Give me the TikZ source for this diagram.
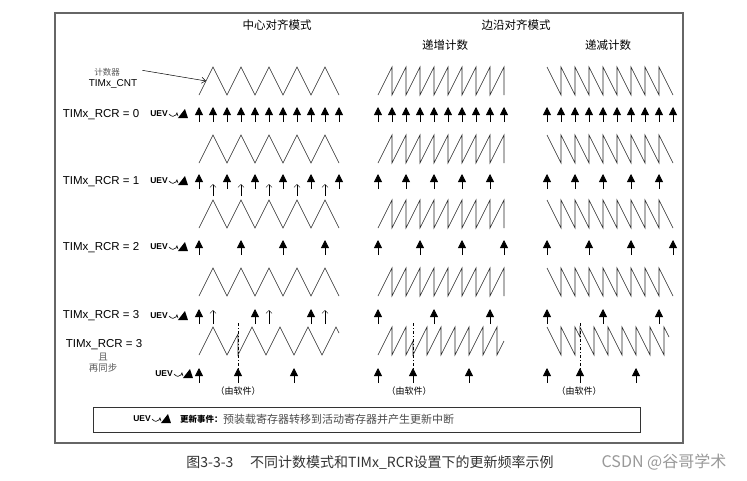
\documentclass[tikz,border=0pt]{standalone}
\usepackage{fontspec}
\setmainfont{Liberation Sans}
\newfontfamily\cjk{Noto Sans CJK SC}
\usetikzlibrary{arrows.meta,positioning}

\begin{document}
\begin{tikzpicture}[x=1pt, y=-1pt,
    wave/.style={line width=0.6pt, black!85, line join=miter},
    bigup/.style={line width=0.8pt, -{Triangle[length=8pt,width=8pt]}},
    thinup/.style={line width=0.5pt, -{Straight Barb[length=3pt,width=6pt]}},
    sync/.style={line width=0.6pt, dash pattern=on 3pt off 2pt on 1pt off 2pt},
    rcr/.style={font=\fontsize{11.5}{12}\selectfont, inner sep=0pt},
    uevtxt/.style={font=\bfseries\fontsize{8.5}{9}\selectfont, inner sep=0pt},
    title/.style={font=\cjk\fontsize{11.5}{12}\selectfont, inner sep=0pt},
    note/.style={font=\cjk\fontsize{8.5}{9}\selectfont, text=black!65, inner sep=0pt},
    soft/.style={font=\cjk\fontsize{9}{10}\selectfont, inner sep=0pt},
    uev/.pic={
      \draw[line width=0.6pt] (0,0) .. controls (3,3) and (5,3) .. (7,1) -- (8,-1) -- (9,2);
      \fill (9,4) -- (19,4) -- (16,-5) -- cycle;
    }]
    % page and frame
    \fill[white] (0,0) rectangle (747,480);
    \useasboundingbox (0,0) rectangle (747,480);
    \draw[line width=1.2pt, black!60] (55,13) rectangle (683,443);

    % Column titles
    \node[title] (center) at (277,25) {中心对齐模式};
    \node[title] (edge) at (516,25) {边沿对齐模式};
    \node[title] (upcnt) at (445,45) {递增计数};
    \node[title] (dncnt) at (608,45) {递减计数};

    % Counter label
    \node[note] (cntzh) at (107,72) {计数器};
    \node[font=\fontsize{10}{11}\selectfont, inner sep=0pt] (cnt) at (113,84) {TIMx\_CNT};
    \coordinate (cnttip) at (206,81);
    \draw[line width=0.5pt, -{Straight Barb[length=4pt,width=6pt]}] ([shift={(5,-9)}]cnt.north east) -- (cnttip);

    % Row labels
    \node[rcr] (rcr0) at (101,115) {TIMx\_RCR = 0};
    \node[rcr] (rcr1) at (101,182) {TIMx\_RCR = 1};
    \node[rcr] (rcr2) at (101,248) {TIMx\_RCR = 2};
    \node[rcr] (rcr3) at (101,316) {TIMx\_RCR = 3};
    \node[rcr] (rcr4) at (104,345) {TIMx\_RCR = 3};
    \node[note, font=\cjk\fontsize{9.5}{10}\selectfont] (qie) at (103,357) {且};
    \node[note, font=\cjk\fontsize{9.5}{10}\selectfont] (resync) at (103,368) {再同步};
    \foreach \y/\n in {114/0,181/1,247/2,316/3} {
      \node[uevtxt] (uev\n) at (159,\y) {UEV};
      \pic at ([xshift=1pt]uev\n.east) {uev};
    }
    \node[uevtxt] (uev4) at (164,374) {UEV};
    \pic at ([xshift=1pt]uev4.east) {uev};

    % Counter waveforms, rows 0 to 3
    \foreach \t in {67,135,200,268} {
      \draw[wave] (199,\t+28) \foreach \i in {1,...,5} { -- ++(14,-28) -- ++(14,28) };
      \draw[wave] (378,\t+28) \foreach \i in {1,...,9} { -- ++(14,-28) -- ++(0,28) };
      \draw[wave] (547,\t) -- ++(14,28) \foreach \i in {1,...,8} { -- ++(0,-28) -- ++(14,28) };
    }

    % Counter waveforms, resynchronised row
    \draw[wave] (199,355) -- (213,327) -- (227,355) -- (238,334) -- (238,355)
      \foreach \i in {1,...,3} { -- ++(14,-28) -- ++(14,28) } -- ++(14,-28) -- ++(3,6);
    \draw[wave] (378,355) \foreach \i in {1,2} { -- ++(14,-28) -- ++(0,28) } -- (413,341) -- (413,355)
      \foreach \i in {1,...,6} { -- ++(14,-28) -- ++(0,28) } -- ++(7,-14);
    \draw[wave] (547,327) \foreach \i in {1,2} { -- ++(14,28) -- ++(0,-28) } -- (580,337) -- (580,327)
      \foreach \i in {1,...,6} { -- ++(14,28) -- ++(0,-28) } -- ++(5,10);
    \draw[sync] (238,323) -- (238,369);
    \draw[sync] (413,323) -- (413,369);
    \draw[sync] (580,323) -- (580,369);

    % Update events, RCR = 0
    \foreach \k in {0,...,10} \draw[bigup] ({199+14*\k},122) -- ++(0,-15);
    \foreach \k in {0,...,9} {
      \draw[bigup] ({378+14*\k},122) -- ++(0,-15);
      \draw[bigup] ({547+14*\k},122) -- ++(0,-15);
    }

    % Update events, RCR = 1
    \foreach \k in {0,2,...,10} \draw[bigup] ({199+14*\k},189) -- ++(0,-15);
    \foreach \k in {1,3,...,9} \draw[thinup] ({199+14*\k},196) -- ++(0,-12);
    \foreach \k in {0,2,...,8} {
      \draw[bigup] ({378+14*\k},189) -- ++(0,-15);
      \draw[bigup] ({547+14*\k},189) -- ++(0,-15);
    }

    % Update events, RCR = 2
    \foreach \k in {0,3,6,9} {
      \draw[bigup] ({199+14*\k},255) -- ++(0,-15);
      \draw[bigup] ({378+14*\k},255) -- ++(0,-15);
      \draw[bigup] ({547+14*\k},255) -- ++(0,-15);
    }

    % Update events, RCR = 3
    \foreach \k in {0,4,8} {
      \draw[bigup] ({199+14*\k},324) -- ++(0,-15);
      \draw[thinup] ({213+14*\k},324) -- ++(0,-14);
      \draw[bigup] ({378+14*\k},324) -- ++(0,-15);
      \draw[bigup] ({547+14*\k},324) -- ++(0,-15);
    }

    % Update events, RCR = 3 with resync
    \foreach \x in {199,238,294,378,413,469,547,580,636}
      \draw[bigup] (\x,383) -- ++(0,-15);
    \node[soft] (soft1) at (238,391) {（由软件）};
    \node[soft] (soft2) at (409,391) {（由软件）};
    \node[soft] (soft3) at (579,391) {（由软件）};

    % Legend
    \draw[line width=0.7pt, black!80] (93,407) rectangle (640,432);
    \node[uevtxt] (uevl) at (142,419) {UEV};
    \pic at ([xshift=1pt]uevl.east) {uev};
    \node[font=\cjk\bfseries\fontsize{8.5}{9}\selectfont, anchor=west, inner sep=0pt] (evt) at (180,419) {更新事件：};
    \node[font=\cjk\fontsize{11}{12}\selectfont, text=black!70, anchor=west, inner sep=0pt] (evtdesc) at (evt.east) {预装载寄存器转移到活动寄存器并产生更新中断};

    % Caption
    \node[font=\cjk\fontsize{14}{15}\selectfont, text=black!80, inner sep=0pt] (cap) at (370,463) {图3-3-3\hspace{1.2em}不同计数模式和TIMx\_RCR设置下的更新频率示例};
    \node[font=\cjk\fontsize{16}{17}\selectfont, text=black!40, inner sep=0pt] (wm) at (664,462) {CSDN @谷哥学术};
\end{tikzpicture}
\end{document}
